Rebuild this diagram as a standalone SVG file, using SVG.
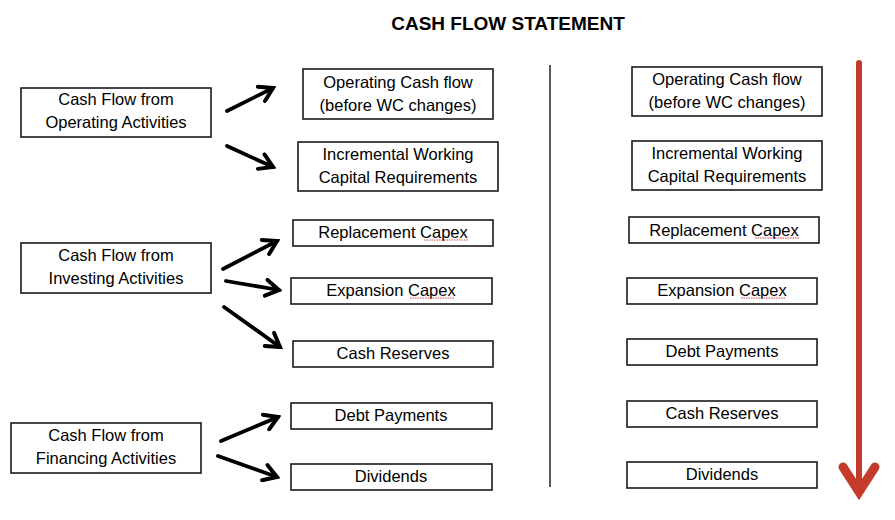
<svg xmlns="http://www.w3.org/2000/svg" width="895" height="520" viewBox="0 0 895 520">
<defs>
<style>
.box{fill:#fff;stroke:#1a1a1a;stroke-width:1.6}
.t{font-family:"Liberation Sans",Arial,sans-serif;font-size:16.5px;fill:#000;text-anchor:middle}
.title{font-family:"Liberation Sans",Arial,sans-serif;font-size:19px;font-weight:bold;fill:#000;text-anchor:middle}
.conn{fill:none;stroke:#000;stroke-width:3.8;stroke-linecap:round}
.sp{fill:none;stroke:#d04040;stroke-width:1;stroke-dasharray:1.5 1}
</style>
<marker id="ah" viewBox="0 0 20 20" refX="17" refY="10" markerWidth="20" markerHeight="20" markerUnits="userSpaceOnUse" orient="auto">
<path d="M4,2 L17,10 L4,18" fill="none" stroke="#000" stroke-width="4" stroke-linecap="round" stroke-linejoin="miter"/>
</marker>
</defs>
<rect width="895" height="520" fill="#fff"/>
<text class="title" x="508" y="30">CASH FLOW STATEMENT</text>

<g id="cf-operating"><rect class="box" x="21" y="88" width="190" height="49"/><text class="t" x="116" y="105">Cash Flow from</text><text class="t" x="116" y="128">Operating Activities</text></g>
<g id="cf-investing"><rect class="box" x="21" y="243" width="190" height="50"/><text class="t" x="116" y="261">Cash Flow from</text><text class="t" x="116" y="284">Investing Activities</text></g>
<g id="cf-financing"><rect class="box" x="11" y="423" width="190" height="50"/><text class="t" x="106" y="441">Cash Flow from</text><text class="t" x="106" y="464">Financing Activities</text></g>

<g id="m-opcf"><rect class="box" x="303" y="69" width="190" height="50"/><text class="t" x="398" y="88">Operating Cash flow</text><text class="t" x="398" y="111">(before WC changes)</text></g>
<g id="m-iwc"><rect class="box" x="298" y="142" width="200" height="49"/><text class="t" x="398" y="160">Incremental Working</text><text class="t" x="398" y="183">Capital Requirements</text></g>
<g id="m-repl"><rect class="box" x="293" y="220" width="200" height="26"/><text class="t" x="393" y="238">Replacement Capex</text><path class="sp" d="M424,240 H469"/></g>
<g id="m-exp"><rect class="box" x="291" y="278" width="201" height="26"/><text class="t" x="391" y="296">Expansion Capex</text><path class="sp" d="M410,298 H455"/></g>
<g id="m-cash"><rect class="box" x="293" y="341" width="200" height="26"/><text class="t" x="393" y="359">Cash Reserves</text></g>
<g id="m-debt"><rect class="box" x="291" y="403" width="201" height="26"/><text class="t" x="391" y="421">Debt Payments</text></g>
<g id="m-div"><rect class="box" x="291" y="464" width="201" height="26"/><text class="t" x="391" y="482">Dividends</text></g>

<g id="r-opcf"><rect class="box" x="632" y="67" width="190" height="49"/><text class="t" x="727" y="85">Operating Cash flow</text><text class="t" x="727" y="108">(before WC changes)</text></g>
<g id="r-iwc"><rect class="box" x="632" y="141" width="190" height="49"/><text class="t" x="727" y="159">Incremental Working</text><text class="t" x="727" y="182">Capital Requirements</text></g>
<g id="r-repl"><rect class="box" x="629" y="217" width="190" height="26"/><text class="t" x="724" y="236">Replacement Capex</text><path class="sp" d="M755,238 H800"/></g>
<g id="r-exp"><rect class="box" x="627" y="278" width="190" height="26"/><text class="t" x="722" y="296">Expansion Capex</text><path class="sp" d="M741,298 H786"/></g>
<g id="r-debt"><rect class="box" x="627" y="339" width="190" height="26"/><text class="t" x="722" y="357">Debt Payments</text></g>
<g id="r-cash"><rect class="box" x="627" y="401" width="190" height="26"/><text class="t" x="722" y="419">Cash Reserves</text></g>
<g id="r-div"><rect class="box" x="627" y="462" width="190" height="26"/><text class="t" x="722" y="480">Dividends</text></g>

<g id="divider"><line x1="550" y1="65" x2="550" y2="487" stroke="#222" stroke-width="1.5"/></g>

<g id="flow-arrow">
<line x1="859" y1="63" x2="859" y2="488" stroke="#c43b2b" stroke-width="6" stroke-linecap="round"/>
<polyline points="843,467 859,492 875,467" fill="none" stroke="#c43b2b" stroke-width="9" stroke-linejoin="miter" stroke-linecap="round"/>
</g>

<g id="connectors">
<line class="conn" x1="227" y1="111" x2="273" y2="88" marker-end="url(#ah)"/>
<line class="conn" x1="227" y1="146" x2="273" y2="167" marker-end="url(#ah)"/>
<line class="conn" x1="223" y1="269" x2="277" y2="241" marker-end="url(#ah)"/>
<line class="conn" x1="226" y1="281" x2="279" y2="290" marker-end="url(#ah)"/>
<line class="conn" x1="224" y1="307" x2="280" y2="347" marker-end="url(#ah)"/>
<line class="conn" x1="221" y1="441" x2="278" y2="417" marker-end="url(#ah)"/>
<line class="conn" x1="218" y1="456" x2="277" y2="477" marker-end="url(#ah)"/>
</g>
</svg>
